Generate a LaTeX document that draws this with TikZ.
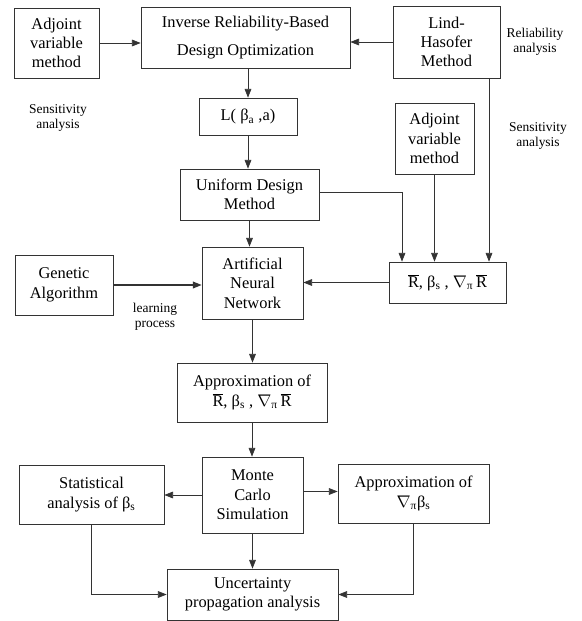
\documentclass[tikz,border=0pt]{standalone}
\usepackage{fontspec}
\setmainfont{Liberation Serif}
\usetikzlibrary{arrows.meta}
\definecolor{frame}{rgb}{0.2,0.2,0.2}

\begin{document}
\begin{tikzpicture}[
  x=0.3mm, y=-0.3mm,
  box/.style = {draw=frame, line width=0.6pt, align=center, inner sep=0pt,
    font=\fontsize{14}{16.5}\selectfont},
  note/.style = {align=center, font=\fontsize{11.5}{13}\selectfont},
  line/.style = {line width=0.6pt, color=frame},
  >={Triangle[length=2.6mm, width=2mm]},
]

  \useasboundingbox (0,0) rectangle (581,621);

  % top row
  \node[box, minimum width=25.5mm, minimum height=21mm] (adjl) at (56.5,43) {Adjoint\\variable\\method};
  \node[box, minimum width=62.7mm, minimum height=18.3mm] (ribdo) at (245.5,37.5)
    {Inverse Reliability-Based\\[8pt]Design Optimization};
  \node[box, minimum width=32.1mm, minimum height=21.6mm] (lind) at (446.5,42) {Lind-\\Hasofer\\Method};

  \node[note] (sensl) at (58,118) {Sensitivity\\analysis};
  \node[note] (relr) at (535,42) {Reliability\\analysis};
  \node[note] (sensr) at (538,136) {Sensitivity\\analysis};

  % middle column
  \node[box, minimum width=29.4mm, minimum height=11.1mm] (lfun) at (248,116.5) {L( β\textsubscript{a} ,a)};
  \node[box, minimum width=41.7mm, minimum height=15.3mm] (unif) at (249.5,194.5) {Uniform Design\\Method};
  \node[box, minimum width=23.7mm, minimum height=21.3mm] (adjr) at (434.5,138.5) {Adjoint\\variable\\method};
  \node[box, minimum width=35.1mm, minimum height=12.3mm] (rvec) at (447.5,282.5)
    {$\overline{\hbox{R}}$, β\textsubscript{s} , $\nabla$\textsubscript{π}\,$\overline{\hbox{R}}$};
  \node[box, minimum width=30.3mm, minimum height=21.6mm] (ann) at (252.5,283) {Artificial\\Neural\\Network};
  \node[box, minimum width=29.4mm, minimum height=18mm] (ga) at (64,285) {Genetic\\Algorithm};
  \node[note] (learn) at (155,317) {learning\\process};

  \node[box, minimum width=45mm, minimum height=17.7mm] (apx) at (252,392.5)
    {Approximation of\\$\overline{\hbox{R}}$, β\textsubscript{s} , $\nabla$\textsubscript{π}\,$\overline{\hbox{R}}$};

  % bottom rows
  \node[box, minimum width=30.3mm, minimum height=22.8mm] (mc) at (252.5,495) {Monte\\Carlo\\Simulation};
  \node[box, minimum width=43.5mm, minimum height=17.7mm] (stat) at (91.5,494.5)
    {Statistical\\analysis of β\textsubscript{s}};
  \node[box, minimum width=45.3mm, minimum height=17.7mm] (apxg) at (413.5,493.5)
    {Approximation of\\$\nabla$\textsubscript{π}β\textsubscript{s}};
  \node[box, minimum width=51.3mm, minimum height=15.3mm] (unc) at (252.5,594.5)
    {Uncertainty\\propagation analysis};

  \coordinate (lindout) at (489,78);
  \coordinate (unifbend) at (402,192);

  \draw[line,->] (adjl.east) -- (adjl.east -| ribdo.west);
  \draw[line,->] (lind.west) -- (lind.west -| ribdo.east);
  \draw[line,->] (lfun.north |- ribdo.south) -- (lfun.north);
  \draw[line,->] (lfun.south) -- (lfun.south |- unif.north);
  \draw[line,->] (unif.south) -- (unif.south |- ann.north);

  \draw[line,->] (unif.east |- unifbend) -- (unifbend) -- (unifbend |- rvec.north);
  \draw[line,->] (adjr.south) -- (adjr.south |- rvec.north);
  \draw[line,->] (lindout) -- (lindout |- rvec.north);

  \draw[line,->] (rvec.west) -- (rvec.west -| ann.east);
  \draw[line,->,line width=1.1pt] (ga.east) -- (ga.east -| ann.west);
  \draw[line,->] (ann.south) -- (ann.south |- apx.north);
  \draw[line,->] (apx.south) -- (apx.south |- mc.north);

  \draw[line,->] (mc.west) -- (mc.west -| stat.east);
  \draw[line,->] ([yshift=3pt]mc.east) -- ([yshift=3pt]mc.east -| apxg.west);
  \draw[line,->] (mc.south) -- (unc.north);
  \draw[line,->] (stat.south) |- (unc.west);
  \draw[line,->] (apxg.south) |- (unc.east);

\end{tikzpicture}
\end{document}
